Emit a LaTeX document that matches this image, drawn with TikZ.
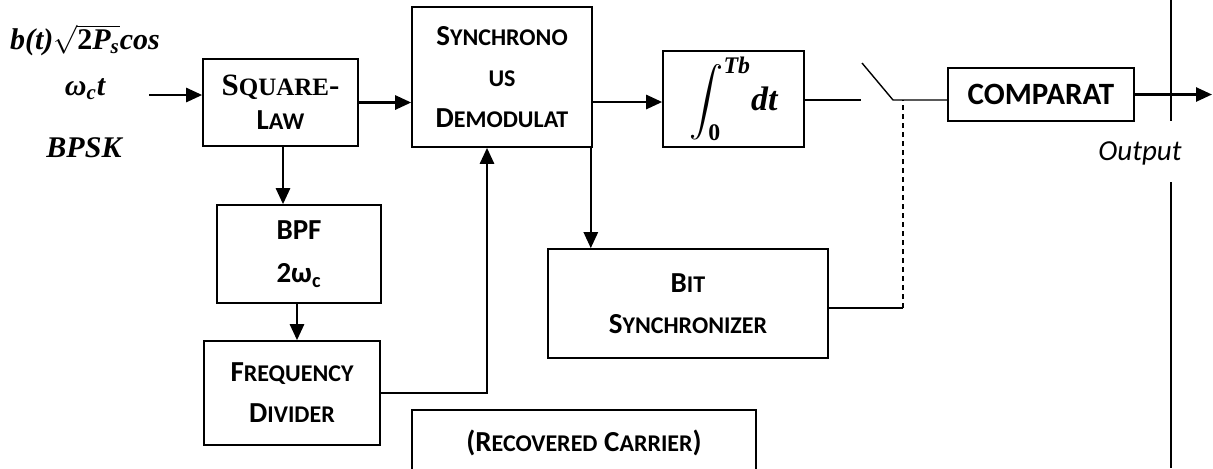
\documentclass[tikz,border=0pt]{standalone}
\usepackage{amsmath,amssymb}
\usepackage{fontspec}
\setmainfont{Carlito}
\newfontfamily\timesfont{Liberation Serif}
\usetikzlibrary{arrows.meta}
\newcommand{\smc}[1]{{\fontsize{12}{13}\selectfont #1}}

\begin{document}
\begin{tikzpicture}[x=0.5pt,y=-0.5pt,>={Triangle[length=8pt,width=7pt]},
  blk/.style={draw,line width=0.8pt,inner sep=0pt,align=center,font=\bfseries\fontsize{14.5}{20.5}\selectfont},
  arr/.style={->,line width=1.3pt},
  wire/.style={line width=0.7pt},
  insig/.style={anchor=base,font=\timesfont\bfseries\itshape\fontsize{15}{18}\selectfont}]
  \useasboundingbox (0,0) rectangle (1213,468);
  \clip (0,0) rectangle (1213,468);
  % input signal
  \node[insig] (sig) at (85,49) {b(t)$\sqrt{\text{\upshape 2}\text{P}_{\text{s}}}$cos};
  \node[insig] (wct) at (85,95) {ω\textsubscript{c}t};
  \node[insig] (bpsk) at (84,157) {BPSK};
  % blocks
  \node[blk,minimum width=77.5pt,minimum height=43.5pt] (sq) at (280.5,102.5)
      {{\timesfont\fontsize{15.5}{18}\selectfont S{\fontsize{12.5}{14}\selectfont QUARE}-}\\[-3.5pt]L\smc{AW}};
  \node[blk,minimum width=90pt,minimum height=70pt] (sync) at (502,77)
      {S\smc{YNCHRONO}\\\smc{US}\\D\smc{EMODULAT}};
  \node[blk,minimum width=70.5pt,minimum height=48pt,font=\timesfont\bfseries\itshape\fontsize{17}{19}\selectfont] (intg) at (733.5,99)
      {$\displaystyle\int_{\text{\upshape 0}}^{\text{Tb}}\!\text{dt}$};
  \node[blk,minimum width=93pt,minimum height=26.5pt,font=\bfseries\fontsize{15.5}{17}\selectfont] (comp) at (1041,94.5)
      {COMPARAT};
  \node[blk,minimum width=82pt,minimum height=49pt,font=\bfseries\fontsize{14.5}{21.5}\selectfont] (bpf) at (299,254)
      {BPF\\2ω\textsubscript{c}};
  \node[blk,minimum width=88pt,minimum height=52pt] (fdiv) at (292,393)
      {F\smc{REQUENCY}\\D\smc{IVIDER}};
  \node[blk,minimum width=140pt,minimum height=54.5pt] (bsync) at (688,303.5)
      {B\smc{IT}\\S\smc{YNCHRONIZER}};
  \node[blk,minimum width=172pt,minimum height=33pt,anchor=north] (rcar) at (584,409)
      {(R\smc{ECOVERED} C\smc{ARRIER})};
  % connectors
  \coordinate (in) at (149,95);
  \coordinate (intin) at ([yshift=-1.5pt]intg.west);
  \draw[arr] (in) -- (in -| sq.west);
  \draw[arr] (sq.east) -- (sq.east -| sync.west);
  \draw[arr] ([xshift=1.25pt]sq.south) -- ([xshift=1.25pt]sq.south |- bpf.north);
  \draw[arr] ([xshift=-1pt]bpf.south) -- ([xshift=-1pt]bpf.south |- fdiv.north);
  \draw[arr] (fdiv.east) -| ([xshift=-7.5pt]sync.south);
  \draw[arr] ([xshift=-1pt]sync.south east) -- ([xshift=-1pt]sync.south east |- bsync.north);
  \draw[arr] (sync.east |- intin) -- (intin);
  % sampling switch
  \coordinate (swin) at (861,100);
  \coordinate (swtop) at (862,63);
  \coordinate (swpiv) at (893,100);
  \coordinate (tap) at (903,308);
  \draw[wire] (intg.east |- swin) -- (swin);
  \draw[wire] (swtop) -- (swpiv) -- (swpiv -| comp.west);
  \draw[wire] (bsync.east |- tap) -- (tap);
  \draw[wire,dash pattern=on 2.5pt off 2pt] (tap) -- (tap |- swpiv);
  % output
  \coordinate (out) at (1212,94.5);
  \draw[arr] (comp.east) -- (out);
  \draw[line width=1pt] (1171,0) -- (1171,121) (1171,182) -- (1171,468);
  \node[anchor=base,font=\itshape\fontsize{14.5}{17}\selectfont] (outl) at (1140,160) {Output};
\end{tikzpicture}
\end{document}
